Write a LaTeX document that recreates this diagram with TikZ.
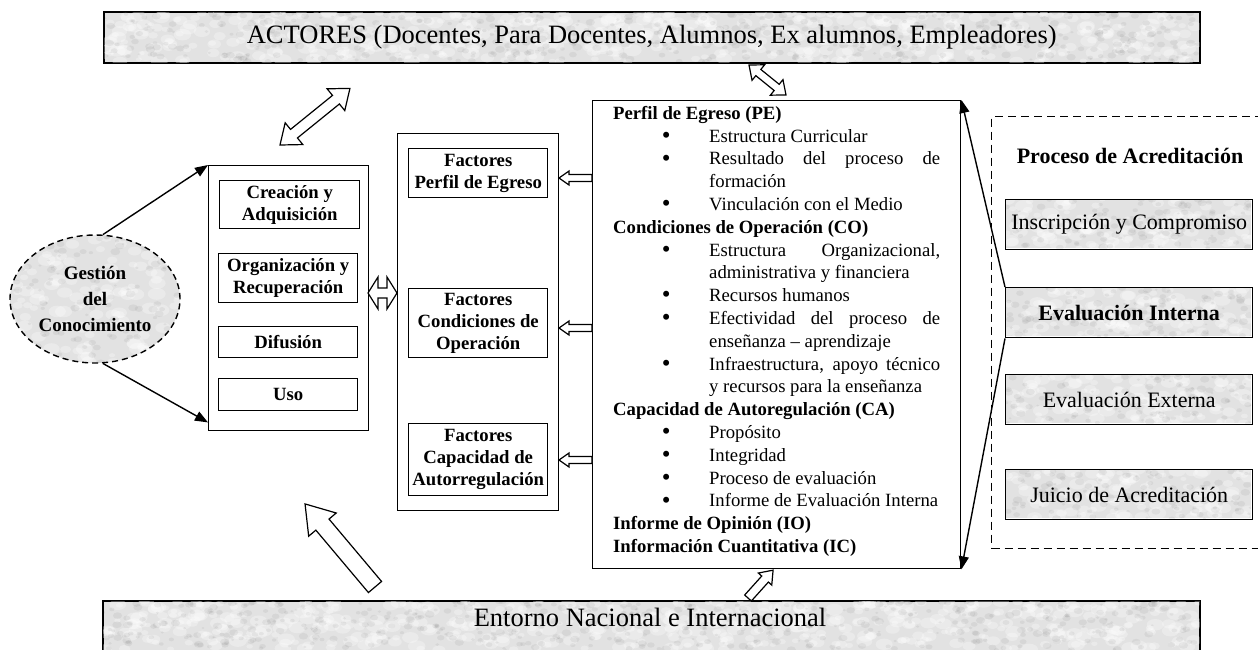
\documentclass[tikz,border=0pt]{standalone}
\usepackage{fontspec}
\setmainfont{Liberation Serif}
\usetikzlibrary{shapes.geometric,arrows.meta}
\definecolor{texgray}{RGB}{226,226,226}
\newcommand{\pebul}{\hspace*{48.6pt}\makebox[47.4pt][l]{\raisebox{-1.2pt}{\fontsize{25}{22}\selectfont •}}}
\newcommand{\pecont}{\hspace*{96pt}}
% single hollow block arrow: start, angle, length, shaft half, head half, head length
\newcommand{\sarrow}[6]{\draw[blockarr,shift={#1},rotate=#2] (0,-#4) -- ({#3-#6},-#4) -- ({#3-#6},-#5) -- (#3,0) -- ({#3-#6},#5) -- ({#3-#6},#4) -- (0,#4) -- cycle;}
% double hollow block arrow
\newcommand{\darrow}[6]{\draw[blockarr,shift={#1},rotate=#2] (0,0) -- (#6,#5) -- (#6,#4) -- ({#3-#6},#4) -- ({#3-#6},#5) -- (#3,0) -- ({#3-#6},-#5) -- ({#3-#6},-#4) -- (#6,-#4) -- (#6,-#5) -- cycle;}
% mottled texture: x, y, width, height, count
\newcommand{\mottle}[5]{%
  \foreach \k in {1,...,#5}{%
    \pgfmathsetmacro{\tx}{#1+rnd*#3}\pgfmathsetmacro{\ty}{#2+rnd*#4}\pgfmathsetmacro{\tr}{2+rnd*4}%
    \fill[white,opacity=0.3] (\tx,\ty) ellipse ({\tr*1.5pt} and {\tr*1pt});}%
  \foreach \k in {1,...,#5}{%
    \pgfmathsetmacro{\tx}{#1+rnd*#3}\pgfmathsetmacro{\ty}{#2+rnd*#4}\pgfmathsetmacro{\tr}{1+rnd*2.5}%
    \fill[black,opacity=0.05] (\tx,\ty) ellipse ({\tr*1.4pt} and {\tr*1pt});}}
\begin{document}
\begin{tikzpicture}[x=1pt,y=-1pt,
  every node/.style={inner sep=0pt},
  bfnt/.style={font=\bfseries\fontsize{18.7}{22}\selectfont},
  box/.style={draw, line width=1.4pt, align=center, anchor=north west, bfnt},
  banner/.style={draw, line width=1.5pt, fill=texgray, anchor=north west},
  gbox/.style={draw, line width=1.4pt, anchor=north west, minimum width=247, minimum height=50, font=\fontsize{22}{26}\selectfont},
  blockarr/.style={draw, line width=1.2pt, fill=white, line join=miter},
  conn/.style={line width=1.4pt, -{Triangle[length=13pt,width=10pt]}}]
\useasboundingbox (0,0) rectangle (1258,649);
\fill[white] (0,0) rectangle (1258,649);
\pgfmathsetseed{11}

% banners
\node[banner, minimum width=1096, minimum height=51] (act) at (103,11) {};
\begin{scope}\clip ([xshift=1pt,yshift=-1pt]act.north west) rectangle ([xshift=-1pt,yshift=1pt]act.south east);
\mottle{103}{11}{1096}{51}{550}\end{scope}
\node[font=\fontsize{26.5}{30}\selectfont] (actt) at (act.center) {ACTORES (Docentes, Para Docentes, Alumnos, Ex alumnos, Empleadores)};

\node[banner, minimum width=1097, minimum height=70] (ent) at (102,600) {};
\begin{scope}\clip ([xshift=1pt,yshift=-1pt]ent.north west) rectangle ([xshift=-1pt,yshift=1pt]ent.south east);
\mottle{102}{600}{1097}{50}{550}\end{scope}
\node[font=\fontsize{26.5}{30}\selectfont] (entt) at (650,617) {Entorno Nacional e Internacional};

% knowledge management
\node[ellipse, fill=texgray, minimum width=170, minimum height=128] (gcf) at (95,299) {};
\begin{scope}\clip (95,299) ellipse (85pt and 64pt);
\mottle{10}{235}{170}{128}{120}\end{scope}
\node[ellipse, draw, dash pattern=on 6pt off 4pt, line width=1.4pt, minimum width=170, minimum height=128, align=center, font=\bfseries\fontsize{19}{26}\selectfont] (gc) at (95,299) {Gestión\\del\\Conocimiento};
\node[box, minimum width=160, minimum height=265] (km) at (208,165) {};
\node[box, minimum width=140, minimum height=48] (cre) at (219,180) {Creación y\\Adquisición};
\node[box, minimum width=139, minimum height=49] (org) at (218,253) {Organización y\\Recuperación};
\node[box, minimum width=139, minimum height=31] (dif) at (218,326) {Difusión};
\node[box, minimum width=139, minimum height=32] (uso) at (218,378) {Uso};
\draw[conn] (gc.83) -- (km.north west);
\draw[conn] (gc.-83) -- ([yshift=9pt]km.south west);

% factors
\node[box, minimum width=161, minimum height=377] (fac) at (397,133) {};
\node[box, minimum width=139, minimum height=49] (fpe) at (408,148) {Factores\\Perfil de Egreso};
\node[box, minimum width=139, minimum height=69] (fco) at (408,288) {Factores\\Condiciones de\\Operación};
\node[box, minimum width=139, minimum height=72] (fca) at (408,423) {Factores\\Capacidad de\\Autorregulación};

% criteria box
\node[box, minimum width=368, minimum height=468] (pe) at (592,100) {};
\node[anchor=north west, align=left, font=\fontsize{18.7}{22.8}\selectfont] (pet) at (613,106) {%
\textbf{Perfil de Egreso (PE)}\\
\pebul Estructura Curricular\\
\pebul \makebox[231pt][s]{Resultado del proceso de}\\
\pecont formación\\
\pebul Vinculación con el Medio\\
\textbf{Condiciones de Operación (CO)}\\
\pebul \makebox[231pt][s]{Estructura Organizacional,}\\
\pecont administrativa y financiera\\
\pebul Recursos humanos\\
\pebul \makebox[231pt][s]{Efectividad del proceso de}\\
\pecont enseñanza – aprendizaje\\
\pebul \makebox[231pt][s]{Infraestructura, apoyo técnico}\\
\pecont y recursos para la enseñanza\\
\textbf{Capacidad de Autoregulación (CA)}\\
\pebul Propósito\\
\pebul Integridad\\
\pebul Proceso de evaluación\\
\pebul Informe de Evaluación Interna\\
\textbf{Informe de Opinión (IO)}\\
\textbf{Información Cuantitativa (IC)}};

% accreditation process
\node[draw, dash pattern=on 8pt off 5pt, line width=1.3pt, anchor=north west, minimum width=290, minimum height=432] (acr) at (991,116) {};
\node[font=\bfseries\fontsize{22}{26}\selectfont] (pa) at (1130,156) {Proceso de Acreditación};
\foreach \yy in {199,287,374,469}{
  \begin{scope}\clip (1006,\yy+1) rectangle (1251,\yy+49);
  \fill[texgray] (1006,\yy+1) rectangle (1251,\yy+49);
  \mottle{1006}{\yy}{245}{50}{110}\end{scope}}
\node[gbox] (ins) at (1005,199) {Inscripción y Compromiso};
\node[gbox, font=\bfseries\fontsize{22}{26}\selectfont] (int) at (1005,287) {Evaluación Interna};
\node[gbox] (ext) at (1005,374) {Evaluación Externa};
\node[gbox] (jui) at (1005,469) {Juicio de Acreditación};
\draw[conn] (int.north west) -- (pe.north east);
\draw[conn] (int.south west) -- (pe.south east);

% block arrows
\darrow{(280,145)}{39}{90}{5.5}{14}{18}
\darrow{(368,293)}{0}{29}{5}{16}{10}
\sarrow{(592,178)}{180}{33}{3.5}{7}{10}
\sarrow{(592,328)}{180}{33}{3.5}{7}{10}
\sarrow{(592,460)}{180}{33}{3.5}{7}{10}
\darrow{(749,65)}{-39}{47.6}{4}{10}{12}
\sarrow{(748,598)}{48}{37.5}{4.5}{9}{12}
\sarrow{(375,587)}{130.1}{108.6}{8.6}{18}{27}
\end{tikzpicture}
\end{document}
